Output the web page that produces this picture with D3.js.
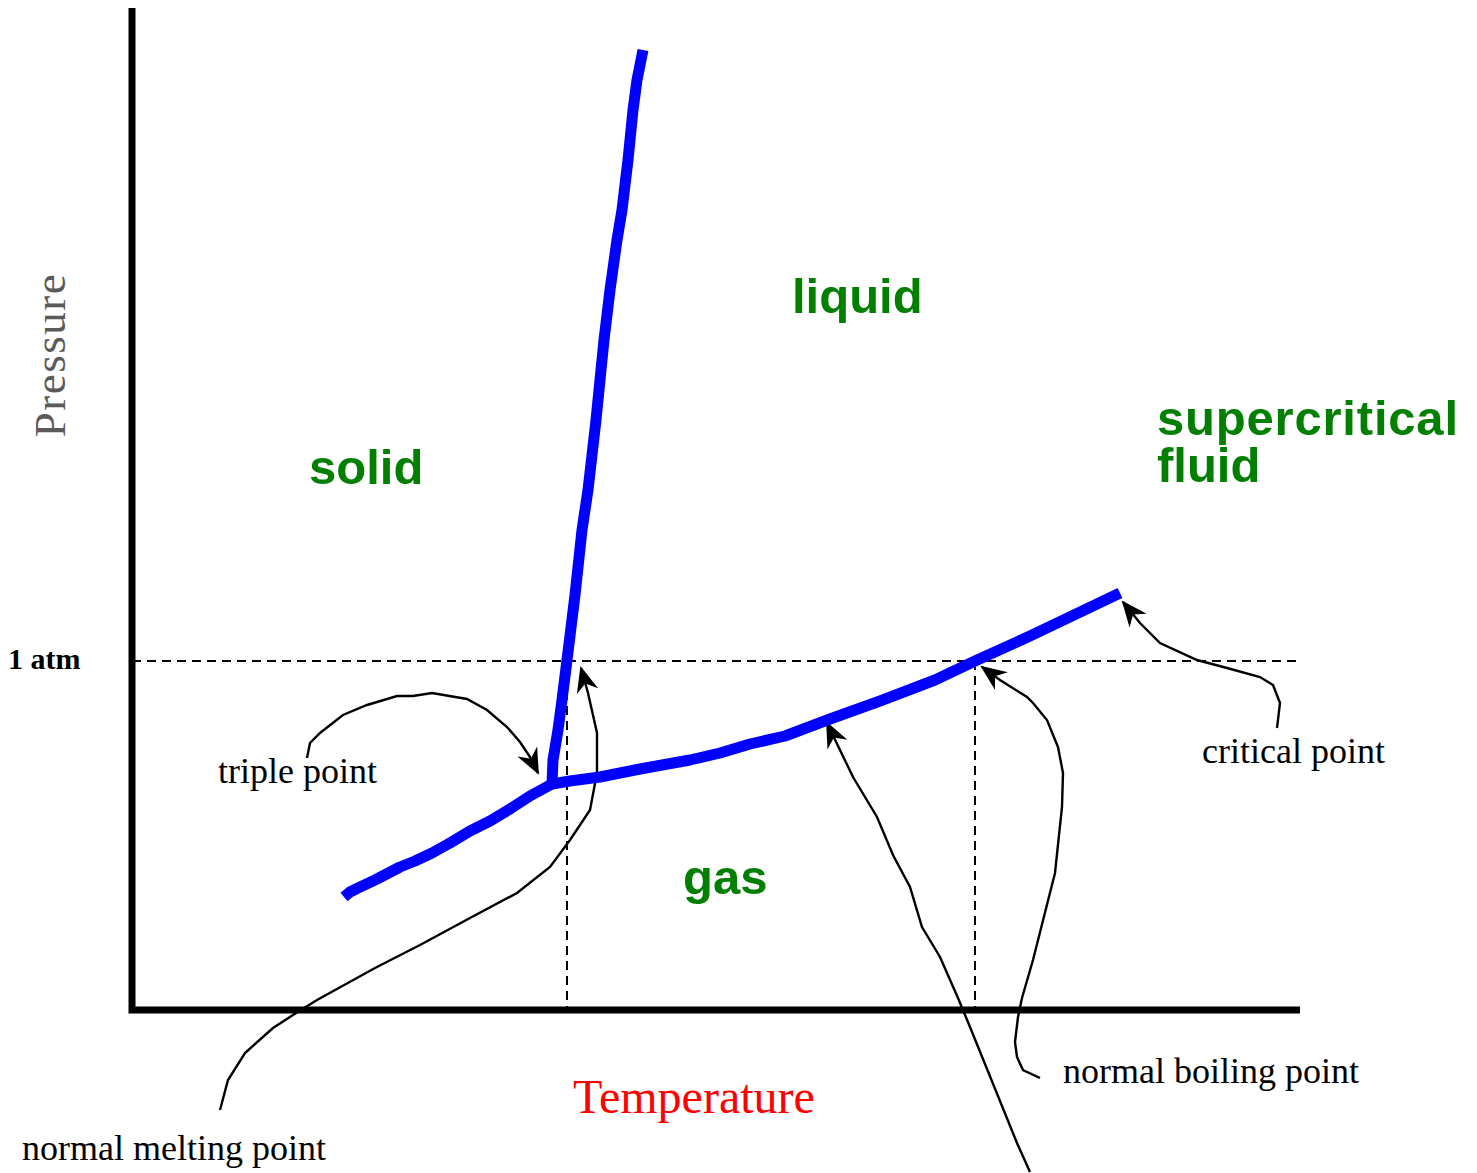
<!DOCTYPE html>
<html>
<head>
<meta charset="utf-8">
<script src="https://cdn.jsdelivr.net/npm/d3@7"></script>
<style>
  body { margin: 0; background: #fff; }
  .region { font-family: "Liberation Sans", Arial, sans-serif; font-weight: bold; font-size: 49px; fill: #007f00; }
  .note { font-family: "Liberation Serif", "Times New Roman", serif; font-size: 36px; fill: #000; }
</style>
</head>
<body>
<svg width="1477" height="1173"></svg>
<script>
// phase boundaries, [temperature, pressure] in arbitrary units
var sublimation = [[21.2,11.3],[21.8,11.8],[22.6,12.2],[24.3,13.0],[26.8,14.3],[28.3,14.9],[30.0,15.7],
  [31.8,16.7],[33.8,17.9],[35.8,18.9],[37.8,20.1],[39.8,21.4],[42.0,22.6]];
var vaporization = [[42.0,22.6],[43.8,22.9],[46.8,23.3],[50.8,24.1],[55.8,25.0],[58.8,25.7],[61.8,26.6],
  [65.3,27.4],[69.8,29.1],[74.8,30.9],[80.3,33.0],[84.3,34.9],[89.8,37.4],[98.8,41.7]];
var melting = [[42.0,22.6],[42.1,25.0],[42.6,28.0],[43.0,31.0],[43.5,35.0],[44.3,41.5],[45.0,48.0],
  [45.6,52.0],[46.4,59.0],[47.2,67.0],[47.8,72.0],[48.5,77.0],[49.0,80.0],[49.6,85.0],[50.1,90.0],
  [50.5,93.0],[51.1,96.0]];

var oneAtm = 34.9;
var meltT = 43.5, boilT = 84.3;

var regions = [
  {name: "liquid", t: 66.0, p: 69.7},
  {name: "solid", t: 17.7, p: 52.6},
  {name: "gas", t: 55.1, p: 11.6},
  {name: "supercritical", t: 102.5, p: 57.5},
  {name: "fluid", t: 102.5, p: 52.8}
];

// hand drawn pointer lines, last point is the arrow tip
var pointers = [
  {label: "triple point", lt: 8.6, lp: 22.7,
   pts: [[17.5,25.2],[17.8,26.7],[18.8,27.7],[21.1,29.5],[23.5,30.5],[26.5,31.4],[28.1,31.4],[30.0,31.7],
         [33.5,31.1],[35.5,30.0],[37.5,28.3],[38.8,26.8],[39.8,25.3],[40.6,23.7]]},
  {label: "normal melting point", lt: -11.0, lp: -15.0,
   pts: [[8.8,-10.0],[9.6,-7.0],[11.3,-4.3],[14.1,-1.8],[16.1,-0.5],[18.5,1.0],[24.3,4.2],[28.8,6.5],
         [33.8,9.2],[38.5,11.7],[41.8,14.3],[43.8,17.0],[45.8,20.0],[46.5,23.7],[46.5,27.7],[45.6,31.7],[44.9,34.2]]},
  {label: "normal boiling point", lt: 93.1, lp: -7.3,
   pts: [[90.8,-6.8],[89.1,-6.0],[88.5,-4.7],[88.3,-3.2],[88.6,-0.7],[89.0,1.2],[90.1,5.0],[92.3,13.7],
         [93.0,20.3],[93.1,23.7],[92.6,26.3],[91.5,29.0],[90.1,30.7],[89.5,31.3],[86.8,33.0],[85.0,34.3]]},
  {label: "critical point", lt: 107.0, lp: 24.7,
   pts: [[114.5,28.2],[114.8,30.7],[114.1,32.5],[112.8,33.3],[109.5,34.2],[106.5,35.0],[102.8,36.7],
         [100.8,38.7],[99.1,40.8]]},
  {label: "", lt: 0, lp: 0,
   pts: [[89.8,-16.2],[88.5,-13.3],[83.8,-1.7],[82.6,1.2],[80.8,5.3],[79.0,8.3],[77.8,12.3],[76.1,15.5],
         [74.5,19.3],[72.1,23.3],[69.5,28.7]]}
];

var svg = d3.select("svg");

var x = d3.scaleLinear().domain([0, 116.8]).range([132, 1300]);
var y = d3.scaleLinear().domain([0, 100]).range([1010, 10]);

var line = d3.line()
    .x(function(d) { return x(d[0]); })
    .y(function(d) { return y(d[1]); });

// dashed guides at 1 atm
var guides = svg.append("g")
    .attr("stroke", "#000")
    .attr("stroke-width", 2)
    .attr("stroke-dasharray", "9,6");
guides.append("line")
    .attr("x1", x(0)).attr("x2", x(116.6))
    .attr("y1", y(oneAtm)).attr("y2", y(oneAtm));
guides.selectAll("line.v")
    .data([meltT, boilT])
  .enter().append("line")
    .attr("class", "v")
    .attr("x1", function(d) { return x(d); }).attr("x2", function(d) { return x(d); })
    .attr("y1", y(oneAtm)).attr("y2", y(0));

// axes
svg.append("path")
    .attr("d", "M" + x(0) + "," + y(100.2) + "V" + y(0) + "H" + x(116.8))
    .attr("fill", "none")
    .attr("stroke", "#000")
    .attr("stroke-width", 7)
    .attr("stroke-linejoin", "miter");

// pointers
var ptr = svg.append("g").selectAll("g")
    .data(pointers)
  .enter().append("g");

ptr.append("path")
    .attr("d", function(d) { return line(d.pts); })
    .attr("fill", "none")
    .attr("stroke", "#000")
    .attr("stroke-width", 2.4);

// arrow heads, turned along the last segment
ptr.append("path")
    .attr("d", "M2,0 L-24,-11 L-16,0 L-24,11 Z")
    .attr("fill", "#000")
    .attr("transform", function(d) {
      var n = d.pts.length, a = d.pts[n - 2], b = d.pts[n - 1];
      var ang = Math.atan2(y(b[1]) - y(a[1]), x(b[0]) - x(a[0])) * 180 / Math.PI;
      return "translate(" + x(b[0]) + "," + y(b[1]) + ") rotate(" + ang + ")";
    });

// phase boundaries
svg.append("g").selectAll("path")
    .data([sublimation, vaporization, melting])
  .enter().append("path")
    .attr("d", line)
    .attr("fill", "none")
    .attr("stroke", "#0000ff")
    .attr("stroke-width", 11)
    .attr("stroke-linejoin", "round");

svg.selectAll("text.region")
    .data(regions)
  .enter().append("text")
    .attr("class", "region")
    .attr("x", function(d) { return x(d.t); })
    .attr("y", function(d) { return y(d.p); })
    .attr("letter-spacing", function(d) { return d.name == "supercritical" ? "0.8px" : null; })
    .text(function(d) { return d.name; });

svg.selectAll("text.note")
    .data(pointers.filter(function(d) { return d.label; }))
  .enter().append("text")
    .attr("class", "note")
    .attr("x", function(d) { return x(d.lt); })
    .attr("y", function(d) { return y(d.lp); })
    .text(function(d) { return d.label; });

svg.append("text")
    .attr("x", 8)
    .attr("y", y(oneAtm) + 8)
    .attr("font-family", "Liberation Serif, Times New Roman, serif")
    .attr("font-weight", "bold")
    .attr("font-size", "30px")
    .text("1 atm");

svg.append("text")
    .attr("transform", "translate(65,355) rotate(-90)")
    .attr("text-anchor", "middle")
    .attr("font-family", "Liberation Serif, Times New Roman, serif")
    .attr("font-size", "45px")
    .attr("letter-spacing", "1.5px")
    .attr("fill", "#5a5a5a")
    .text("Pressure");

svg.append("text")
    .attr("x", 573)
    .attr("y", 1113)
    .attr("font-family", "Liberation Serif, Times New Roman, serif")
    .attr("font-size", "48px")
    .attr("fill", "#ff0000")
    .text("Temperature");
</script>
</body>
</html>
